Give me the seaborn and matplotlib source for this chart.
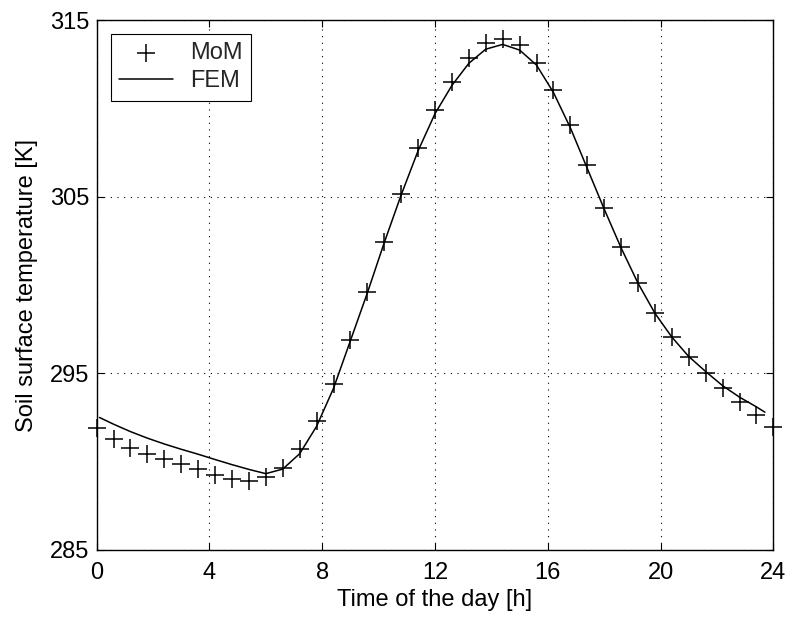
import numpy as np
import pandas as pd
import matplotlib
matplotlib.use("Agg")
import matplotlib.pyplot as plt
import seaborn as sns

# MoM samples (every 0.6 h)
mom_time = [0.0, 0.6, 1.2, 1.8, 2.4, 3.0, 3.6, 4.2, 4.8, 5.4, 6.0, 6.6, 7.2, 7.8,
            8.4, 9.0, 9.6, 10.2, 10.8, 11.4, 12.0, 12.6, 13.2, 13.8, 14.4, 15.0,
            15.6, 16.2, 16.8, 17.4, 18.0, 18.6, 19.2, 19.8, 20.4, 21.0, 21.6,
            22.2, 22.8, 23.4, 24.0]
mom_temp = [291.9, 291.27, 290.76, 290.44, 290.14, 289.87, 289.57, 289.25, 289.02,
            288.93, 289.12, 289.63, 290.69, 292.32, 294.40, 296.89, 299.62, 302.45,
            305.17, 307.74, 309.91, 311.51, 312.83, 313.68, 313.91, 313.59, 312.58,
            311.04, 309.06, 306.79, 304.34, 302.14, 300.10, 298.40, 297.04, 295.91,
            295.04, 294.18, 293.40, 292.65, 291.98]

# FEM curve
fem_time = [0.1, 0.6, 1.2, 1.8, 2.4, 3.0, 3.6, 4.2, 4.8, 5.4, 6.0, 6.6, 7.2, 7.8,
            8.4, 9.0, 9.6, 10.2, 10.8, 11.4, 12.0, 12.6, 13.2, 13.8, 14.4, 15.0,
            15.6, 16.2, 16.8, 17.4, 18.0, 18.6, 19.2, 19.8, 20.4, 21.0, 21.6,
            22.2, 22.8, 23.4, 23.7]
fem_temp = [292.5, 292.12, 291.7, 291.33, 291.0, 290.7, 290.42, 290.12, 289.83,
            289.56, 289.32, 289.58, 290.45, 292.0, 294.15, 296.85, 299.55, 302.4,
            305.1, 307.6, 309.7, 311.3, 312.55, 313.35, 313.62, 313.3, 312.45,
            310.9, 308.9, 306.6, 304.3, 302.1, 300.1, 298.4, 297.05, 295.95,
            295.1, 294.3, 293.65, 293.1, 292.8]

x_ticks = [0, 4, 8, 12, 16, 20, 24]
y_ticks = [285, 295, 305, 315]

sns.set_theme(style="white")
plt.rcParams['font.family'] = ['Liberation Sans', 'DejaVu Sans']

fig = plt.figure(figsize=(7.91, 6.22), dpi=100)
ax = fig.add_axes([0.1222, 0.1158, 0.8555, 0.852])

mom = pd.DataFrame({"t": mom_time, "T": mom_temp})
fem = pd.DataFrame({"t": fem_time, "T": fem_temp})

sns.scatterplot(data=mom, x="t", y="T", marker="+", s=170, color="black",
                linewidth=1.1, ax=ax, label="MoM", zorder=3, clip_on=False)
sns.lineplot(data=fem, x="t", y="T", color="black", linewidth=1.1, ax=ax,
             label="FEM", sort=False, zorder=2)

FS = 17
ax.set_xlim(0, 24)
ax.set_ylim(285, 315)
ax.set_xticks(x_ticks)
ax.set_yticks(y_ticks)
ax.set_xticklabels([str(v) for v in x_ticks])
ax.set_yticklabels([str(v) for v in y_ticks])
ax.tick_params(direction="in", length=5, width=0.8, top=True, right=True,
               bottom=True, left=True, labelsize=FS, colors="black")
ax.tick_params(axis="x", pad=9)
ax.tick_params(axis="y", pad=5)
ax.grid(True, color="black", linestyle=(0, (1, 5)), linewidth=0.8)
for s in ax.spines.values():
    s.set_color("black")
    s.set_linewidth(1.0)
    s.set_visible(True)

ax.set_xlabel("Time of the day [h]", fontsize=FS, color="black", labelpad=3)
ax.set_ylabel("Soil surface temperature [K]", fontsize=FS, color="black", labelpad=9)

leg = ax.legend(loc="upper left", fontsize=FS, frameon=True, fancybox=False,
                edgecolor="black", framealpha=1, borderpad=0.35, handlelength=2.3,
                handletextpad=0.7, labelspacing=0.25, borderaxespad=0.6)
leg.get_frame().set_linewidth(0.8)

fig.savefig("out.png", dpi=100)
